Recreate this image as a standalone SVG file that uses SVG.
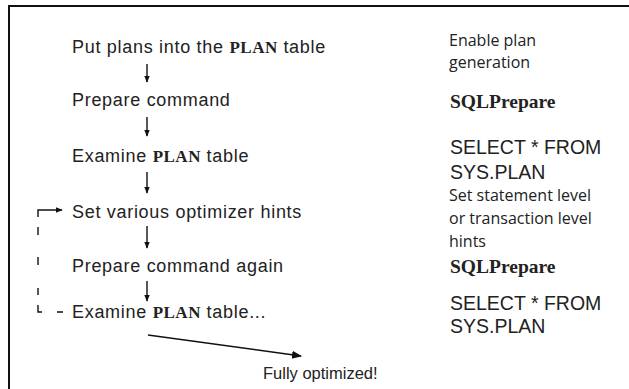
<svg xmlns="http://www.w3.org/2000/svg" width="629" height="389" viewBox="0 0 629 389">
<defs>
<marker id="ah" viewBox="0 0 10 10" refX="9" refY="5" markerWidth="7" markerHeight="7" orient="auto" markerUnits="userSpaceOnUse">
<path d="M0,1 L10,5 L0,9 Z" fill="#111"/>
</marker>
<marker id="ah2" viewBox="0 0 10 10" refX="9" refY="5" markerWidth="10" markerHeight="10" orient="auto" markerUnits="userSpaceOnUse">
<path d="M0,1 L10,5 L0,9 Z" fill="#111"/>
</marker>
</defs>
<style>
.step{font-family:"Liberation Sans",Arial,sans-serif;font-size:18px;letter-spacing:0.7px;fill:#222;}
.kw{font-family:"Liberation Serif","Times New Roman",serif;font-weight:bold;font-size:17px;letter-spacing:0.5px;}
.fin{font-family:"Liberation Sans",Arial,sans-serif;font-size:16.5px;fill:#222;}
.note{font-family:"Open Sans","Noto Sans",sans-serif;font-size:16px;fill:#222;}
.code{font-family:"Liberation Serif","Times New Roman",serif;font-weight:bold;font-size:19.5px;fill:#222;}
.sql{font-family:"Liberation Sans",Arial,sans-serif;font-size:19.5px;fill:#222;}
.ln{stroke:#111;stroke-width:1.4;fill:none;}
.dash{stroke:#111;stroke-width:1.4;fill:none;}
</style>
<rect width="629" height="389" fill="#fff"/>
<g id="frame">
<path d="M9,389 L9,6 L629,6" stroke="#111" stroke-width="2" fill="none"/>
</g>
<g id="step1"><text class="step" x="72" y="53">Put plans into the <tspan class="kw">PLAN</tspan> table</text></g>
<g id="step2"><text class="step" x="72" y="106">Prepare command</text></g>
<g id="step3"><text class="step" x="72" y="162">Examine <tspan class="kw">PLAN</tspan> table</text></g>
<g id="step4"><text class="step" x="72" y="218">Set various optimizer hints</text></g>
<g id="step5"><text class="step" x="72" y="272">Prepare command again</text></g>
<g id="step6"><text class="step" x="72" y="318">Examine <tspan class="kw">PLAN</tspan> table...</text></g>
<g id="done"><text class="fin" x="263" y="379">Fully optimized!</text></g>
<g id="note1"><text class="note" x="449" y="46">Enable plan</text><text class="note" x="449" y="68">generation</text></g>
<g id="note2"><text class="code" x="450" y="108">SQLPrepare</text></g>
<g id="note3"><text class="sql" x="450" y="154">SELECT * FROM</text><text class="sql" x="450" y="179">SYS.PLAN</text></g>
<g id="note4"><text class="note" x="449" y="201">Set statement level</text><text class="note" x="449" y="224">or transaction level</text><text class="note" x="449" y="247">hints</text></g>
<g id="note5"><text class="code" x="450" y="273">SQLPrepare</text></g>
<g id="note6"><text class="sql" x="450" y="310">SELECT * FROM</text><text class="sql" x="450" y="333">SYS.PLAN</text></g>
<g id="connectors">
<line class="ln" x1="147" y1="64" x2="147" y2="82" marker-end="url(#ah)"/>
<line class="ln" x1="147" y1="117" x2="147" y2="136" marker-end="url(#ah)"/>
<line class="ln" x1="147" y1="172" x2="147" y2="193" marker-end="url(#ah)"/>
<line class="ln" x1="147" y1="226" x2="147" y2="248" marker-end="url(#ah)"/>
<line class="ln" x1="147" y1="281" x2="147" y2="301" marker-end="url(#ah)"/>
<line class="ln" x1="148" y1="335" x2="301" y2="356" marker-end="url(#ah2)"/>
<path class="dash" d="M63,312 L57,312 M42,312 L38,312 L38,305 M38,295 L38,288 M38,265 L38,257 M38,235 L38,227 M38,217 L38,210 L62,210" marker-end="url(#ah)"/>
</g>
</svg>
